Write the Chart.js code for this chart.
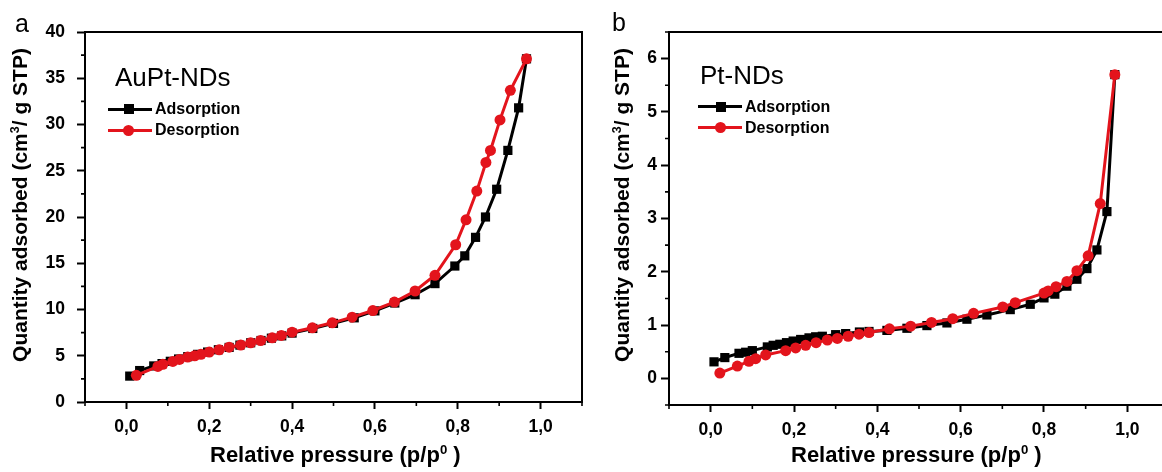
<!DOCTYPE html>
<html>
<head>
<meta charset="utf-8">
<script src="https://cdn.jsdelivr.net/npm/chart.js@4.4.1/dist/chart.umd.min.js"></script>
<style>
  html, body { margin: 0; padding: 0; background: #fff; }
  body { width: 1162px; height: 472px; position: relative; overflow: hidden;
         font-family: Arial, "Liberation Sans", sans-serif; color: #000; }
  .box { position: absolute; top: 0; width: 600px; height: 472px; }
  .txt { position: absolute; white-space: nowrap; line-height: 1; }
  .letter { font-size: 25px; }
  .name { font-size: 26px; }
  .leg { font-size: 16px; font-weight: bold; }
  .xt { font-size: 22px; font-weight: bold; }
  .yt { font-size: 21px; font-weight: bold; transform: translate(-50%, -50%) rotate(-90deg); }
  sup { font-size: 60%; vertical-align: 0.6em; line-height: 0; }
  .ln { position: absolute; height: 3px; width: 44px; }
  .sq { position: absolute; width: 10px; height: 10px; }
  .ci { position: absolute; width: 11px; height: 11px; border-radius: 50%; }
</style>
</head>
<body>
<div class="box" style="left:0"><canvas id="chartA"></canvas></div>
<div class="box" style="left:584px"><canvas id="chartB"></canvas></div>

<div class="txt letter" style="left:15px; top:11px">a</div>
<div class="txt letter" style="left:612px; top:10px">b</div>
<div class="txt name" style="left:115px; top:64px">AuPt-NDs</div>
<div class="txt name" style="left:700px; top:62px">Pt-NDs</div>

<div class="ln" style="left:108px; top:108px; background:#000"></div>
<div class="sq" style="left:124px; top:104px; background:#000"></div>
<div class="txt leg" style="left:155px; top:101px">Adsorption</div>
<div class="ln" style="left:108px; top:129px; background:#e3141c"></div>
<div class="ci" style="left:123px; top:125px; background:#e3141c"></div>
<div class="txt leg" style="left:155px; top:122px">Desorption</div>

<div class="ln" style="left:698px; top:105px; background:#000"></div>
<div class="sq" style="left:716px; top:102px; background:#000"></div>
<div class="txt leg" style="left:745px; top:99px">Adsorption</div>
<div class="ln" style="left:698px; top:126px; background:#e3141c"></div>
<div class="ci" style="left:715px; top:122px; background:#e3141c"></div>
<div class="txt leg" style="left:745px; top:120px">Desorption</div>

<div class="txt xt" style="left:210px; top:444px">Relative pressure (p/p<sup>0</sup> )</div>
<div class="txt xt" style="left:791px; top:444px">Relative pressure (p/p<sup>0</sup> )</div>
<div class="txt yt" style="left:19px; top:205px">Quantity adsorbed (cm<sup>3</sup>/ g STP)</div>
<div class="txt yt" style="left:621px; top:205px">Quantity adsorbed (cm<sup>3</sup>/ g STP)</div>

<script>
// panel a: AuPt-NDs
const adsA_x = [0.008, 0.032, 0.066, 0.086, 0.106, 0.126, 0.148, 0.172, 0.196, 0.222, 0.248, 0.274, 0.3, 0.325, 0.35, 0.375, 0.4, 0.45, 0.5, 0.55, 0.6, 0.648, 0.697, 0.745, 0.793, 0.817, 0.843, 0.867, 0.894, 0.921, 0.947, 0.966];
const adsA_y = [2.8, 3.4, 3.9, 4.15, 4.4, 4.65, 4.9, 5.15, 5.4, 5.65, 5.9, 6.15, 6.4, 6.65, 6.9, 7.15, 7.45, 7.95, 8.5, 9.1, 9.85, 10.7, 11.6, 12.8, 14.7, 15.8, 17.8, 20.0, 23.0, 27.2, 31.8, 37.1];
const desA_x = [0.966, 0.927, 0.902, 0.879, 0.868, 0.846, 0.82, 0.795, 0.745, 0.697, 0.647, 0.595, 0.545, 0.497, 0.449, 0.4, 0.374, 0.352, 0.324, 0.3, 0.276, 0.248, 0.224, 0.2, 0.18, 0.165, 0.148, 0.128, 0.112, 0.088, 0.076, 0.024];
const desA_y = [37.1, 33.7, 30.5, 27.2, 25.9, 22.8, 19.7, 17.0, 13.7, 12.0, 10.8, 9.89, 9.17, 8.56, 8.02, 7.55, 7.2, 6.94, 6.65, 6.4, 6.15, 5.93, 5.65, 5.4, 5.15, 5.0, 4.86, 4.6, 4.39, 4.07, 3.85, 2.88];

// panel b: Pt-NDs
const adsB_x = [0.008, 0.034, 0.068, 0.084, 0.1, 0.136, 0.15, 0.166, 0.182, 0.198, 0.216, 0.236, 0.252, 0.268, 0.3, 0.324, 0.357, 0.38, 0.423, 0.471, 0.519, 0.567, 0.615, 0.663, 0.719, 0.767, 0.8, 0.826, 0.855, 0.879, 0.903, 0.927, 0.951, 0.97];
const adsB_y = [0.31, 0.39, 0.47, 0.49, 0.52, 0.59, 0.62, 0.64, 0.67, 0.70, 0.73, 0.76, 0.78, 0.79, 0.82, 0.84, 0.87, 0.88, 0.90, 0.94, 0.99, 1.04, 1.11, 1.19, 1.29, 1.39, 1.51, 1.58, 1.73, 1.86, 2.06, 2.41, 3.13, 5.7];
const desB_x = [0.97, 0.935, 0.906, 0.879, 0.855, 0.829, 0.81, 0.8, 0.731, 0.701, 0.631, 0.581, 0.53, 0.48, 0.429, 0.38, 0.356, 0.33, 0.304, 0.28, 0.253, 0.228, 0.204, 0.18, 0.132, 0.108, 0.092, 0.064, 0.022];
const desB_y = [5.7, 3.28, 2.3, 2.02, 1.82, 1.72, 1.64, 1.6, 1.42, 1.34, 1.22, 1.12, 1.05, 0.98, 0.93, 0.86, 0.83, 0.79, 0.75, 0.72, 0.67, 0.62, 0.57, 0.52, 0.44, 0.37, 0.32, 0.23, 0.10];

// axis ranges and major tick values
const xRange = [-0.1, 1.1];
const xTicks = [0, 0.2, 0.4, 0.6, 0.8, 1.0];
const yRangeA = [0, 40];
const yTicksA = [0, 5, 10, 15, 20, 25, 30, 35, 40];
const yRangeB = [-0.5, 6.5];
const yTicksB = [0, 1, 2, 3, 4, 5, 6];

const RED = '#e3141c';
const FONT = 'Arial, "Liberation Sans", sans-serif';

const pts = (xs, ys) => xs.map((x, i) => ({ x, y: ys[i] }));
const setTicks = vals => s => { s.ticks = vals.map(v => ({ value: v })); };

// frame + short minor ticks halfway between major ones
const framePlugin = {
    id: 'frame',
    afterDraw(chart) {
        const { ctx, chartArea: a, scales } = chart;
        ctx.save();
        ctx.strokeStyle = '#000';
        ctx.lineWidth = 2;
        ctx.strokeRect(a.left, a.top, a.right - a.left, a.bottom - a.top);
        ctx.lineWidth = 1.6;
        ctx.beginPath();
        const mids = ticks => {
            const step = ticks[1].value - ticks[0].value;
            const out = [ticks[0].value - step / 2];
            ticks.forEach(t => out.push(t.value + step / 2));
            return out;
        };
        mids(scales.x.ticks).forEach(v => {
            if (v < scales.x.min - 1e-9 || v > scales.x.max + 1e-9) return;
            const p = scales.x.getPixelForValue(v);
            ctx.moveTo(p, a.bottom);
            ctx.lineTo(p, a.bottom + 4);
        });
        mids(scales.y.ticks).forEach(v => {
            if (v < scales.y.min - 1e-9 || v > scales.y.max + 1e-9) return;
            const p = scales.y.getPixelForValue(v);
            ctx.moveTo(a.left, p);
            ctx.lineTo(a.left - 4, p);
        });
        ctx.stroke();
        ctx.restore();
    }
};

function makeChart(id, ads, des, yRange, yTicks, opts) {
    const ctx = document.getElementById(id).getContext('2d');
    return new Chart(ctx, {
        type: 'scatter',
        data: {
            datasets: [{
                label: 'Adsorption',
                data: ads,
                showLine: true,
                borderColor: '#000',
                backgroundColor: '#000',
                borderWidth: 3,
                pointStyle: 'rect',
                pointRadius: 6.5,
                pointBorderWidth: 0,
                order: 2
            }, {
                label: 'Desorption',
                data: des,
                showLine: true,
                borderColor: RED,
                backgroundColor: RED,
                borderWidth: 3,
                pointStyle: 'circle',
                pointRadius: 5.5,
                pointBorderWidth: 0,
                order: 1
            }]
        },
        options: {
            responsive: true,
            maintainAspectRatio: false,
            animation: false,
            layout: { padding: { left: 0, top: opts.top, right: opts.right, bottom: 0 } },
            plugins: { legend: { display: false }, tooltip: { enabled: false } },
            scales: {
                x: {
                    type: 'linear',
                    min: xRange[0],
                    max: xRange[1],
                    afterBuildTicks: setTicks(xTicks),
                    grid: { drawOnChartArea: false, tickLength: 7, tickWidth: 2, tickColor: '#000' },
                    border: { color: '#000', width: 2 },
                    ticks: {
                        color: '#000',
                        padding: 8,
                        font: { family: FONT, size: 17.5, weight: 'bold' },
                        callback: v => v.toFixed(1).replace('.', ',')
                    },
                    afterFit: s => { s.height = opts.xh; }
                },
                y: {
                    min: yRange[0],
                    max: yRange[1],
                    afterBuildTicks: setTicks(yTicks),
                    grid: { drawOnChartArea: false, tickLength: 8, tickWidth: 2, tickColor: '#000' },
                    border: { color: '#000', width: 2 },
                    ticks: {
                        color: '#000',
                        padding: opts.ypad,
                        font: { family: FONT, size: 17.5, weight: 'bold' }
                    },
                    afterFit: s => { s.width = 85; }
                }
            }
        },
        plugins: [framePlugin]
    });
}

makeChart('chartA', pts(adsA_x, adsA_y), pts(desA_x, desA_y), yRangeA, yTicksA,
    { top: 32, right: 18, xh: 70, ypad: 12 });
makeChart('chartB', pts(adsB_x, adsB_y), pts(desB_x, desB_y), yRangeB, yTicksB,
    { top: 32, right: 15, xh: 67, ypad: 4 });
</script>
</body>
</html>
